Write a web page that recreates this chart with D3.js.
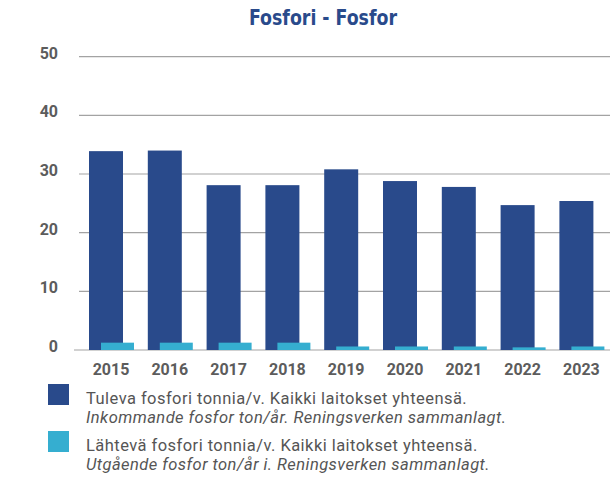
<!DOCTYPE html>
<html>
<head>
<meta charset="utf-8">
<script src="https://cdn.jsdelivr.net/npm/d3@7"></script>
<style>
  html, body { margin: 0; padding: 0; background: #fff; }
  svg { display: block; }
</style>
</head>
<body>
<svg id="chart" width="610" height="480"></svg>
<script>
const years = ["2015","2016","2017","2018","2019","2020","2021","2022","2023"];
const incoming = [33.9, 34.0, 28.1, 28.1, 30.8, 28.8, 27.8, 24.7, 25.4];
const outgoing = [1.25, 1.25, 1.25, 1.25, 0.6, 0.6, 0.6, 0.45, 0.6];
const yTicks = [0, 10, 20, 30, 40, 50];
const title = "Fosfori - Fosfor";
const legendItems = [
  ["Tuleva fosfori tonnia/v. Kaikki laitokset yhteensä.", "Inkommande fosfor ton/år. Reningsverken sammanlagt."],
  ["Lähtevä fosfori tonnia/v. Kaikki laitokset yhteensä.", "Utgående fosfor ton/år i. Reningsverken sammanlagt."]
];
const colors = ["#294a8b", "#35aed0"];

const svg = d3.select("#chart");
const font = "Roboto, 'Noto Sans', sans-serif";

const x = d3.scaleBand().domain(years).range([82.6, 611.8]).padding(0);
const y = d3.scaleLinear().domain([0, 50]).range([350, 56.7]);

// title
svg.append("text")
  .attr("x", 323).attr("y", 25)
  .attr("text-anchor", "middle")
  .attr("font-family", "'Liberation Sans Narrow', 'DejaVu Sans Condensed', 'Roboto', sans-serif")
  .attr("font-weight", "bold")
  .attr("font-size", 21)
  .attr("fill", "#294a8b")
  .attr("textLength", 148)
  .attr("lengthAdjust", "spacingAndGlyphs")
  .text(title);

// gridlines
svg.append("g").selectAll("line").data(yTicks).join("line")
  .attr("x1", d => d === 0 ? 74 : 79)
  .attr("x2", 610)
  .attr("y1", d => y(d)).attr("y2", d => y(d))
  .attr("stroke", "#a3a3a3")
  .attr("stroke-width", 1.2);

// y labels
svg.append("g").selectAll("text").data(yTicks).join("text")
  .attr("x", 58)
  .attr("y", d => y(d) - 3.5)
  .attr("dominant-baseline", "central")
  .attr("text-anchor", "end")
  .attr("font-family", font)
  .attr("font-weight", "bold")
  .attr("font-size", 16)
  .attr("fill", "#5c5c5c")
  .text(d => d);

// bars
const darkW = 34, lightW = 33;
svg.append("g").selectAll("rect").data(years).join("rect")
  .attr("x", (d) => x(d) + x.bandwidth() / 2 - 23)
  .attr("width", darkW)
  .attr("y", (d, i) => y(incoming[i]))
  .attr("height", (d, i) => y(0) - y(incoming[i]))
  .attr("fill", colors[0]);

svg.append("g").selectAll("rect").data(years).join("rect")
  .attr("x", (d) => x(d) + x.bandwidth() / 2 - 11)
  .attr("width", lightW)
  .attr("y", (d, i) => y(outgoing[i]))
  .attr("height", (d, i) => y(0) - y(outgoing[i]))
  .attr("fill", colors[1]);

// x labels
svg.append("g").selectAll("text").data(years).join("text")
  .attr("x", d => x(d) + x.bandwidth() / 2 - 1)
  .attr("y", 375)
  .attr("text-anchor", "middle")
  .attr("font-family", font)
  .attr("font-weight", "bold")
  .attr("font-size", 16)
  .attr("fill", "#5c5c5c")
  .text(d => d);

// legend
const lg = svg.append("g");
legendItems.forEach((item, i) => {
  const top = 384 + i * 47;
  lg.append("rect")
    .attr("x", 48).attr("y", top)
    .attr("width", 21).attr("height", 21)
    .attr("fill", colors[i]);
  lg.append("text")
    .attr("x", 86).attr("y", top + 19.5)
    .attr("font-family", font)
    .attr("font-size", 16.5)
    .attr("letter-spacing", 0.45)
    .attr("fill", "#555")
    .text(item[0]);
  lg.append("text")
    .attr("x", 86).attr("y", top + 39)
    .attr("font-family", font)
    .attr("font-style", "italic")
    .attr("font-size", 16.5)
    .attr("letter-spacing", 0.45)
    .attr("fill", "#555")
    .text(item[1]);
});
</script>
</body>
</html>
